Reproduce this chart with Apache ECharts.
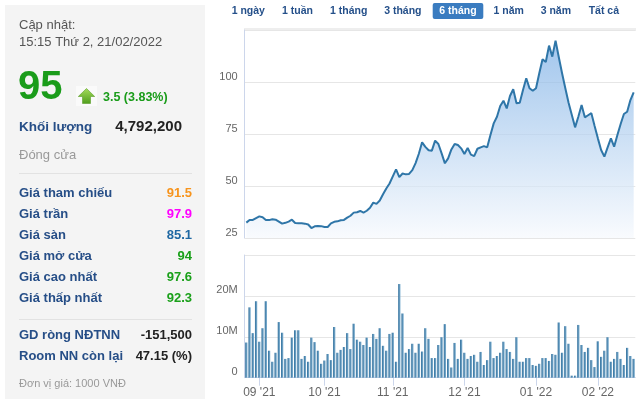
<!DOCTYPE html>
<html><head><meta charset="utf-8">
<script src="https://cdn.jsdelivr.net/npm/echarts@6/dist/echarts.min.js"></script>
<style>html,body{margin:0;padding:0;background:#fff}#c{width:640px;height:403px}</style>
</head><body><div id="c"></div>
<script>
// ---- Data ----
const dates = [
'2021-08-26','2021-08-27','2021-08-30','2021-08-31',
'2021-09-01','2021-09-06','2021-09-07','2021-09-08','2021-09-09','2021-09-10','2021-09-13','2021-09-14','2021-09-15','2021-09-16','2021-09-17','2021-09-20','2021-09-21','2021-09-22','2021-09-23','2021-09-24','2021-09-27','2021-09-28','2021-09-29','2021-09-30',
'2021-10-01','2021-10-04','2021-10-05','2021-10-06','2021-10-07','2021-10-08','2021-10-11','2021-10-12','2021-10-13','2021-10-14','2021-10-15','2021-10-18','2021-10-19','2021-10-20','2021-10-21','2021-10-22','2021-10-25','2021-10-26','2021-10-27','2021-10-28','2021-10-29',
'2021-11-01','2021-11-02','2021-11-03','2021-11-04','2021-11-05','2021-11-08','2021-11-09','2021-11-10','2021-11-11','2021-11-12','2021-11-15','2021-11-16','2021-11-17','2021-11-18','2021-11-19','2021-11-22','2021-11-23','2021-11-24','2021-11-25','2021-11-26','2021-11-29','2021-11-30',
'2021-12-01','2021-12-02','2021-12-03','2021-12-06','2021-12-07','2021-12-08','2021-12-09','2021-12-10','2021-12-13','2021-12-14','2021-12-15','2021-12-16','2021-12-17','2021-12-20','2021-12-21','2021-12-22','2021-12-23','2021-12-24','2021-12-27','2021-12-28','2021-12-29','2021-12-30',
'2022-01-04','2022-01-05','2022-01-06','2022-01-07','2022-01-10','2022-01-11','2022-01-12','2022-01-13','2022-01-14','2022-01-17','2022-01-18','2022-01-19','2022-01-20','2022-01-21','2022-01-24','2022-01-25','2022-01-26','2022-01-27','2022-01-28',
'2022-02-07','2022-02-08','2022-02-09','2022-02-10','2022-02-11','2022-02-14','2022-02-15','2022-02-16','2022-02-17','2022-02-18','2022-02-21','2022-02-22'
];
const price = [
32.4,33.7,33.7,34.6,35.4,35.0,33.6,33.6,34.0,33.8,
32.9,31.9,32.3,32.9,33.8,32.2,32.1,32.1,31.9,31.5,
29.8,30.6,30.8,30.7,30.3,30.3,32.0,32.8,33.0,33.5,
33.7,34.8,35.7,37.2,37.4,38.0,37.2,38.1,39.5,42.0,
41.4,43.0,46.0,48.8,51.2,54.6,58.0,54.3,56.0,55.6,
55.8,57.6,61.0,65.5,71.0,68.8,67.2,67.0,71.8,70.2,
65.7,60.9,63.3,67.6,70.2,69.7,68.1,65.4,68.3,65.1,
64.4,67.9,68.6,69.2,68.6,74.5,80.1,83.3,88.5,91.0,
87.3,93.3,96.5,89.8,90.0,96.2,101.8,97.0,95.8,97.0,
104.2,110.9,109.6,117.5,112.2,119.9,111.9,104.2,97.0,90.0,
84.1,78.2,83.3,88.9,83.0,84.0,85.0,78.8,72.9,67.3,
64.1,68.6,72.9,68.9,74.5,79.8,84.6,85.7,91.3,95.0
];
const volumeM = [
8.6,17.2,10.9,18.7,8.8,12.1,18.7,6.6,3.9,6.1,
13.6,11.0,4.6,4.8,9.8,11.6,11.6,4.6,5.3,3.9,
9.8,8.7,6.6,3.4,4.2,5.8,4.3,12.4,6.1,6.8,
7.5,10.9,7.0,13.2,9.3,8.8,8.0,9.8,7.5,10.7,
9.5,12.1,7.8,6.6,10.7,11.0,3.9,22.9,15.7,6.1,
7.0,8.3,6.1,8.3,6.4,12.1,9.5,4.8,4.8,8.0,
9.9,13.1,4.6,2.5,8.5,4.6,9.3,6.1,4.6,5.3,
5.6,3.9,6.3,3.1,4.3,8.8,4.8,5.3,6.1,8.8,
7.0,6.3,4.6,9.9,3.9,3.9,4.8,4.8,3.1,2.9,
3.4,4.8,4.8,4.1,5.8,5.6,13.5,6.1,12.6,8.3,
0.5,0.5,12.9,8.0,6.3,7.3,4.3,2.6,8.9,5.1,
6.6,9.9,3.9,4.6,6.3,4.6,3.1,7.3,5.3,4.6
];
const rangeButtons = ['1 ngày','1 tuần','1 tháng','3 tháng','6 tháng','1 năm','3 năm','Tất cả'];
const activeRange = '6 tháng';
const infoRows = [
  ['Giá tham chiếu','91.5','#f7941d'],
  ['Giá trần','97.9','#ff00ff'],
  ['Giá sàn','85.1','#1f68a3'],
  ['Giá mở cửa','94','#1aa01a'],
  ['Giá cao nhất','97.6','#1aa01a'],
  ['Giá thấp nhất','92.3','#1aa01a']
];
const foreignRows = [
  ['GD ròng NĐTNN','-151,500'],
  ['Room NN còn lại','47.15 (%)']
];

// ---- Chart ----
const FF = 'Arial, "Liberation Sans", sans-serif';
const chart = echarts.init(document.getElementById('c'), null, {renderer:'canvas'});
const monthStart = (i) => i > 0 && dates[i].slice(0,7) !== dates[i-1].slice(0,7);
const monthFmt = (v) => v.slice(5,7) + " '" + v.slice(2,4);

function T(text, x, y, font, fill, align) {
  return {type:'text', x:x, y:y, z:10, style:{text:text, font:font, fill:fill,
    textAlign:align||'left', align:align||'left', textVerticalAlign:'middle', verticalAlign:'middle'}};
}
const labelColor = '#264e87';
const g = [];
g.push({type:'rect', shape:{x:5,y:5,width:200,height:394}, style:{fill:'#f4f4f4'}, z:1});
g.push(T('Cập nhật:', 19, 25, '13px '+FF, '#555'));
g.push(T('15:15 Thứ 2, 21/02/2022', 19, 42, '13px '+FF, '#555'));
g.push(T('95', 18, 88, 'bold 40px '+FF, '#1a9c1a'));
g.push({type:'rect', shape:{x:76,y:86,width:21,height:20}, style:{fill:'#fafafa'}, z:5});
g.push({type:'polygon', z:6, shape:{points:[[86.5,88.5],[78.3,96.5],[82.5,96.5],[82.5,103.5],[90.5,103.5],[90.5,96.5],[94.7,96.5]]},
  style:{fill:new echarts.graphic.LinearGradient(0,0,0,1,[{offset:0,color:'#a6dc5c'},{offset:1,color:'#4f9d1c'}]), stroke:'#5a9e2a', lineWidth:0.6}});
g.push(T('3.5 (3.83%)', 103, 97.5, 'bold 12.5px '+FF, '#1a9c1a'));
g.push(T('Khối lượng', 19, 127, 'bold 13.5px '+FF, labelColor));
g.push(T('4,792,200', 182, 127, 'bold 15px '+FF, '#222', 'right'));
g.push(T('Đóng cửa', 19, 155, '13px '+FF, '#999'));
g.push({type:'line', shape:{x1:19,y1:173.5,x2:192,y2:173.5}, style:{stroke:'#e2e2e2', lineWidth:1}, z:5});
infoRows.forEach((r, i) => {
  const y = 193.5 + i * 21;
  g.push(T(r[0], 19, y, 'bold 13px '+FF, labelColor));
  g.push(T(r[1], 192, y, 'bold 13px '+FF, r[2], 'right'));
});
g.push({type:'line', shape:{x1:19,y1:319.5,x2:192,y2:319.5}, style:{stroke:'#e2e2e2', lineWidth:1}, z:5});
foreignRows.forEach((r, i) => {
  const y = 335 + i * 21.5;
  g.push(T(r[0], 19, y, 'bold 13px '+FF, labelColor));
  g.push(T(r[1], 192, y, 'bold 13px '+FF, '#222', 'right'));
});
g.push(T('Đơn vị giá: 1000 VNĐ', 19, 384, '11px '+FF, '#999'));
// range buttons
const btnCenters = [248.3, 297.5, 348.7, 402.8, 458, 508.7, 555.8, 603.8];
rangeButtons.forEach((b, i) => {
  if (b === activeRange) {
    g.push({type:'rect', shape:{x:btnCenters[i]-25.3, y:3, width:50.6, height:16, r:2}, style:{fill:'#3a7cc0'}, z:5});
    g.push(T(b, btnCenters[i], 11.5, 'bold 10.5px '+FF, '#fff', 'center'));
  } else {
    g.push(T(b, btnCenters[i], 11.5, 'bold 10.5px '+FF, '#25508a', 'center'));
  }
});
g.push({type:'rect', shape:{x:244, y:28, width:392, height:3}, style:{fill:'#eeeeee'}, z:0});

const axisLineColor = '#ccd6eb';
const yLabel = {fontSize:11, color:'#666', fontFamily:FF, verticalAlign:'bottom', lineHeight:11, margin:7};

chart.setOption({
  animation:false,
  backgroundColor:'#fff',
  graphic:{elements:g},
  grid:[
    {left:244.7, right:4.7, top:30, height:208},
    {left:244.7, right:4.7, top:255, height:122.7}
  ],
  xAxis:[
    {type:'category', gridIndex:0, data:dates, boundaryGap:true, show:true,
      axisLine:{show:false}, axisTick:{show:false}, axisLabel:{show:false}, splitLine:{show:false}},
    {type:'category', gridIndex:1, data:dates, boundaryGap:true,
      axisLine:{show:true, lineStyle:{color:axisLineColor}},
      axisTick:{show:true, alignWithLabel:true, interval:monthStart, length:8, lineStyle:{color:axisLineColor}},
      axisLabel:{show:true, interval:monthStart, formatter:monthFmt, fontSize:12, color:'#666', fontFamily:FF, margin:9},
      splitLine:{show:false}}
  ],
  yAxis:[
    {type:'value', gridIndex:0, min:25, max:125, interval:25,
      axisLine:{show:true, lineStyle:{color:axisLineColor}}, axisTick:{show:false},
      axisLabel:Object.assign({}, yLabel, {formatter:(v)=> v === 125 ? '' : String(v)}),
      splitLine:{show:true, lineStyle:{color:'#e6e6e6'}}},
    {type:'value', gridIndex:1, min:0, max:30, interval:10,
      axisLine:{show:true, lineStyle:{color:axisLineColor}}, axisTick:{show:false},
      axisLabel:Object.assign({}, yLabel, {formatter:(v)=> v === 0 ? '0' : (v >= 30 ? '' : v + 'M')}),
      splitLine:{show:true, lineStyle:{color:'#e6e6e6'}}}
  ],
  series:[
    {type:'line', xAxisIndex:0, yAxisIndex:0, data:price, showSymbol:false, symbol:'none',
      lineStyle:{width:2, color:'#2f76a8'},
      areaStyle:{origin:'start', color:new echarts.graphic.LinearGradient(0,0,0,1,[
        {offset:0, color:'#7aaee5'},{offset:1, color:'#f6f9fd'}])}},
    {type:'bar', xAxisIndex:1, yAxisIndex:1, data:volumeM, barWidth:2.3,
      itemStyle:{color:new echarts.graphic.LinearGradient(0,0,1,0,[
        {offset:0, color:'#2f6e9b'},{offset:1, color:'#86b5d4'}])}}
  ]
});
</script>
</body></html>
